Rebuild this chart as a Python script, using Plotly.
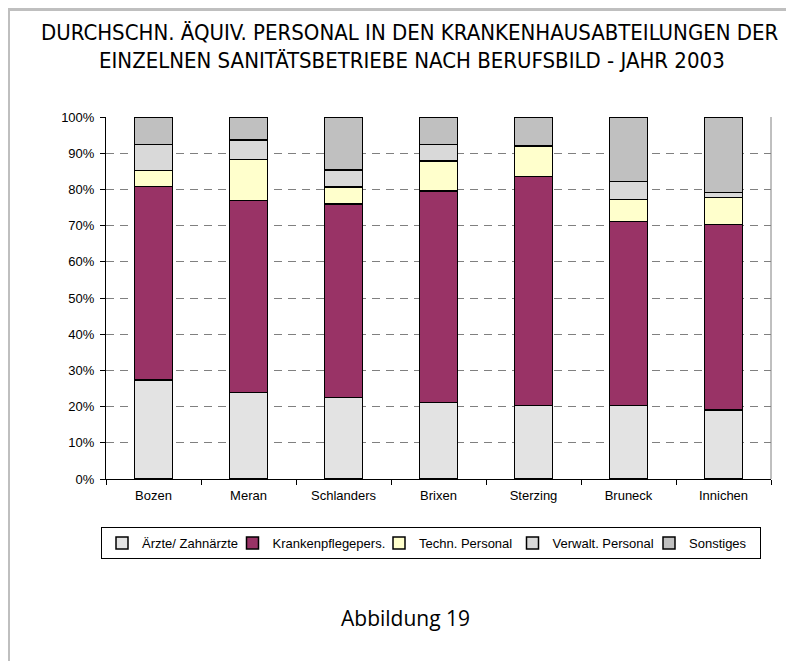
import plotly.graph_objects as go

categories = ["Bozen", "Meran", "Schlanders", "Brixen", "Sterzing", "Bruneck", "Innichen"]
aerzte = [27.4, 23.9, 22.5, 21.2, 20.3, 20.3, 19.0]
pflege = [53.4, 53.1, 53.5, 58.3, 63.3, 50.9, 51.3]
techn = [4.4, 11.3, 4.7, 8.4, 8.4, 6.0, 7.5]
verwalt = [7.2, 5.4, 4.6, 4.5, 0.0, 5.0, 1.4]
sonst = [7.6, 6.3, 14.7, 7.6, 8.0, 17.8, 20.8]

series_names = ["Ärzte/ Zahnärzte", "Krankenpflegepers.", "Techn. Personal", "Verwalt. Personal", "Sonstiges"]
series_values = [aerzte, pflege, techn, verwalt, sonst]
colors = ["#E3E3E3", "#993366", "#FFFFCC", "#D9D9D9", "#C0C0C0"]
legend_widths = [85.5, 101.5, 88.5, 91.5, 66]

title_line1 = "DURCHSCHN. ÄQUIV. PERSONAL IN DEN KRANKENHAUSABTEILUNGEN DER"
title_line2 = "EINZELNEN SANITÄTSBETRIEBE NACH BERUFSBILD - JAHR 2003"
caption = "Abbildung 19"

OFF = 8  # page body margin
W, H = 794 - OFF, 661 - OFF
# plot area in page pixels
PL, PR, PT, PB = 106, 771, 117, 479
L, R, T, B = PL - OFF, PR - OFF, PT - OFF, PB - OFF


def px(x):
    return (x - OFF - L) / (R - L)


def py(y):
    return (B - (y - OFF)) / (B - T)


fig = go.Figure()
for name, vals, col, lw in zip(series_names, series_values, colors, legend_widths):
    fig.add_trace(go.Bar(
        x=categories,
        y=[v / 100 for v in vals],
        name=name,
        marker=dict(color=col, line=dict(color="#000000", width=1.5)),
        width=0.4,
        legendwidth=lw,
    ))

fig.update_layout(
    width=W, height=H, autosize=False,
    barmode="stack",
    paper_bgcolor="white", plot_bgcolor="white",
    margin=dict(l=L, r=W - R, t=T, b=H - B, pad=0),
    font=dict(family="Liberation Sans, Arial, sans-serif", size=13, color="#000000"),
    showlegend=True,
    legend=dict(
        orientation="h",
        x=px(101), y=py(527), xanchor="left", yanchor="top",
        bordercolor="#000000", borderwidth=1,
        font=dict(family="Liberation Sans, Arial, sans-serif", size=13, color="#000000"),
        itemwidth=30,
        traceorder="normal",
        tracegroupgap=0,
    ),
)

fig.update_yaxes(
    range=[0, 1], dtick=0.1, tick0=0, tickformat=".0%",
    showgrid=True, gridcolor="#808080", gridwidth=1, griddash="8px,6px",
    showline=True, linecolor="#000000", linewidth=1,
    ticks="outside", ticklen=5, tickcolor="#000000",
    zeroline=False, ticklabelstandoff=3,
    tickfont=dict(size=13),
)
fig.update_xaxes(
    showline=True, linecolor="#000000", linewidth=1,
    ticks="outside", ticklen=5, tickcolor="#000000", tickson="boundaries",
    showgrid=False, ticklabelstandoff=4,
    tickfont=dict(size=13),
)

# right border of plot area (gray)
fig.add_shape(type="line", xref="paper", yref="paper", x0=1, x1=1, y0=0, y1=1,
              line=dict(color="#808080", width=1))
# page frame lines (top and left)
fig.add_shape(type="line", xref="paper", yref="paper", x0=px(6), x1=px(786), y0=py(9.5), y1=py(9.5),
              line=dict(color="#BFBFBF", width=3))
fig.add_shape(type="line", xref="paper", yref="paper", x0=px(8.5), x1=px(8.5), y0=py(8), y1=py(680),
              line=dict(color="#BFBFBF", width=3))

title_font = dict(family="Liberation Sans Narrow, DejaVu Sans Condensed, Arial Narrow, sans-serif",
                  size=22, color="#000000")
fig.add_annotation(text=title_line1, xref="paper", yref="paper", x=px(410), y=py(33),
                   xanchor="center", yanchor="middle", showarrow=False, font=title_font)
fig.add_annotation(text=title_line2, xref="paper", yref="paper", x=px(412), y=py(60),
                   xanchor="center", yanchor="middle", showarrow=False, font=title_font)
fig.add_annotation(text=caption, xref="paper", yref="paper", x=px(405), y=py(618),
                   xanchor="center", yanchor="middle", showarrow=False,
                   font=dict(family="Open Sans, Noto Sans, sans-serif", size=21, color="#000000"))

fig.write_html("out.html")
